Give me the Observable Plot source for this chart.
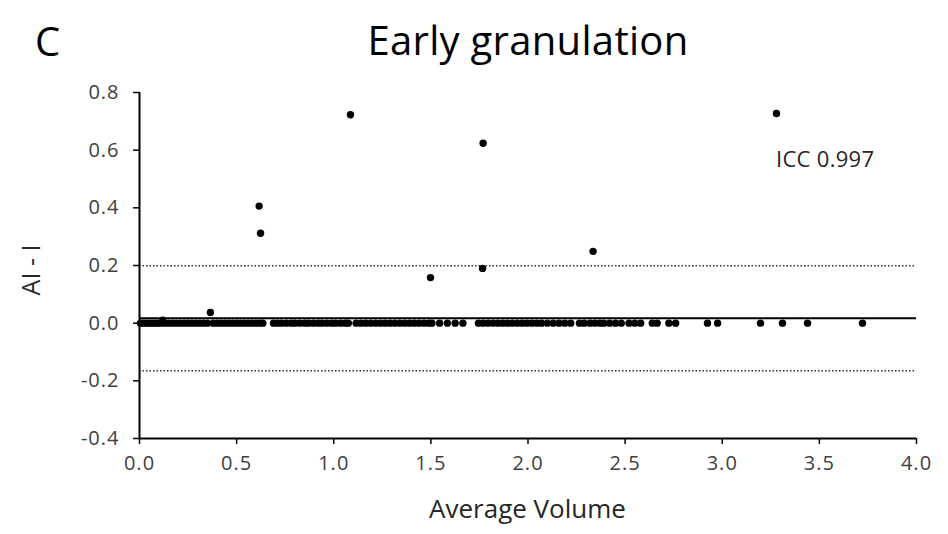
<!DOCTYPE html>
<html>
<head>
<meta charset="utf-8">
<script src="https://cdn.jsdelivr.net/npm/d3@7"></script>
<script src="https://cdn.jsdelivr.net/npm/@observablehq/plot@0.6"></script>
<style>
  body { margin: 0; background: #fff; }
  #wrap { position: relative; width: 948px; height: 534px; font-family: "Open Sans", sans-serif; color: #000; }
  .t { position: absolute; white-space: nowrap; }
</style>
</head>
<body>
<div id="wrap">
  <div class="t" id="panel" style="left:35px; top:13px; font-size:40px;">C</div>
  <div class="t" id="title" style="left:0; width:1056px; text-align:center; top:12px; font-size:40px; letter-spacing:0.3px;">Early granulation</div>
  <div class="t" id="icc" style="left:776px; top:143px; font-size:22px; color:#262626; letter-spacing:0.3px;">ICC 0.997</div>
  <div class="t" id="xt" style="left:139px; width:777px; text-align:center; top:490px; font-size:26px; color:#262626;">Average Volume</div>
  <div class="t" id="yt" style="left:30px; top:270px; font-size:25px; color:#262626; transform: translate(-50%,-50%) rotate(-90deg);">AI - I</div>
</div>
<script>
// Bland–Altman: x = average volume, y = AI - I difference
const zeroX = [
  0.005, 0.02, 0.035, 0.05, 0.065, 0.08, 0.095, 0.11, 0.13, 0.15, 0.17, 0.19, 0.21, 0.23, 0.25, 0.27,
  0.29, 0.31, 0.33, 0.35, 0.38, 0.40, 0.42, 0.44, 0.46, 0.48, 0.50, 0.52, 0.54, 0.56, 0.58, 0.60, 0.62, 0.635,
  0.69, 0.71, 0.73, 0.755, 0.78, 0.80, 0.825, 0.85, 0.87, 0.895, 0.92, 0.94, 0.965, 0.99, 1.01, 1.035, 1.06, 1.075,
  1.115, 1.14, 1.165, 1.19, 1.215, 1.24, 1.265, 1.29, 1.315, 1.34, 1.365, 1.39, 1.415, 1.44, 1.465, 1.49, 1.505,
  1.545, 1.585, 1.625, 1.665,
  1.745, 1.77, 1.795, 1.82, 1.845, 1.87, 1.895, 1.92, 1.945, 1.97, 1.995, 2.02, 2.045,
  2.07, 2.10, 2.13, 2.16, 2.19, 2.22,
  2.265, 2.29, 2.32, 2.345, 2.37,
  2.39, 2.42, 2.45, 2.48,
  2.52, 2.55, 2.58, 2.64, 2.665, 2.725, 2.76,
  2.924, 2.976, 3.197, 3.31, 3.439, 3.722
];
const outlierX = [0.12, 0.365, 0.616, 0.623, 1.086, 1.498, 1.766, 1.769, 2.335, 3.279];
const outlierY = [0.01, 0.037, 0.406, 0.312, 0.723, 0.158, 0.19, 0.624, 0.249, 0.727];
const meanDiff = [0.017];
const limits = [0.199, -0.165];
const xTicks = [0, 0.5, 1, 1.5, 2, 2.5, 3, 3.5, 4];
const yTicks = [-0.4, -0.2, 0, 0.2, 0.4, 0.6, 0.8];

const pts = zeroX.map(x => ({x, y: 0})).concat(outlierX.map((x, i) => ({x, y: outlierY[i]})));

const chart = Plot.plot({
  width: 948,
  height: 534,
  marginLeft: 139,
  marginRight: 32,
  marginTop: 92,
  marginBottom: 96,
  style: {fontFamily: "Open Sans, sans-serif", fontSize: "20px", background: "transparent", overflow: "visible"},
  x: {domain: [0, 4]},
  y: {domain: [-0.4, 0.8]},
  marks: [
    Plot.ruleY(limits, {stroke: "#333", strokeWidth: 1.4, strokeDasharray: "1.5,2"}),
    Plot.ruleY(meanDiff, {stroke: "#000", strokeWidth: 2}),
    Plot.dot(pts, {x: "x", y: "y", r: 3.7, fill: "#000", stroke: "none"}),
    Plot.ruleX([0], {stroke: "#000", strokeWidth: 2}),
    Plot.ruleY([-0.4], {stroke: "#000", strokeWidth: 2}),
    Plot.axisX({ticks: xTicks, tickSize: 6, tickPadding: 11, tickFormat: d => d.toFixed(1), stroke: "#000", strokeWidth: 1.5, fill: "#404040", label: null}),
    Plot.axisY({ticks: yTicks, tickSize: 6, tickPadding: 14, tickFormat: d => d.toFixed(1), stroke: "#000", strokeWidth: 1.5, fill: "#404040", label: null})
  ]
});
chart.style.position = "absolute";
chart.style.left = "0px";
chart.style.top = "0px";
chart.querySelectorAll("text").forEach(t => {
  t.style.fontSize = "20px";
  t.style.letterSpacing = "1px";
});
document.getElementById("wrap").prepend(chart);
</script>
</body>
</html>
